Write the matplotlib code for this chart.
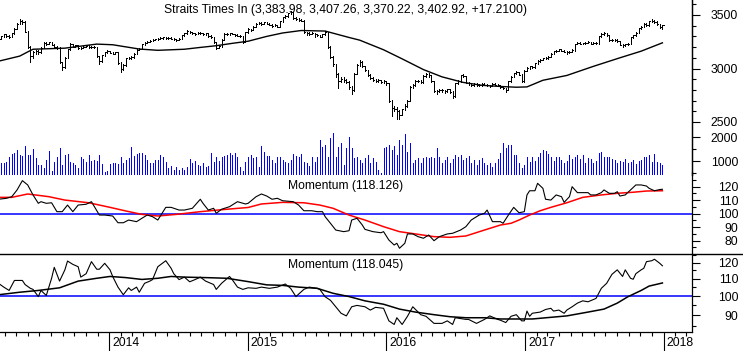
import numpy as np
import pandas as pd
import matplotlib
matplotlib.use('Agg')
import matplotlib.pyplot as plt
import matplotlib.dates as mdates
from matplotlib.lines import Line2D
from matplotlib.collections import LineCollection
from matplotlib.ticker import NullFormatter

plt.rcParams['font.family'] = ['Liberation Sans', 'DejaVu Sans']

# weekly bars, Straits Times Index
first_week = '2013-03-15'

closes = [3280, 3300, 3318, 3302, 3295, 3330, 3372, 3420, 3445, 3432,
          3345, 3200, 3115, 3150, 3165, 3150, 3195, 3238, 3230, 3245,
          3222, 3205, 3195, 3060, 3010, 3100, 3180, 3225, 3205, 3215,
          3190, 3195, 3205, 3212, 3198, 3205, 3200, 3115, 3070, 3125,
          3150, 3162, 3148, 3140, 3150, 3055, 2995, 3030, 3095, 3100,
          3105, 3140, 3175, 3185, 3228, 3240, 3252, 3258, 3265, 3272,
          3278, 3285, 3290, 3282, 3286, 3280, 3272, 3268, 3278, 3310,
          3330, 3348, 3340, 3328, 3322, 3335, 3330, 3318, 3328, 3305,
          3290, 3245, 3195, 3210, 3270, 3322, 3318, 3330, 3322, 3312,
          3308, 3300, 3252, 3340, 3368, 3360, 3392, 3418, 3425, 3420,
          3430, 3418, 3410, 3398, 3405, 3392, 3440, 3478, 3490, 3515,
          3525, 3472, 3465, 3455, 3448, 3340, 3330, 3322, 3332, 3318,
          3310, 3298, 3320, 3345, 3205, 3110, 3040, 2950, 2885, 2905,
          2895, 2878, 2830, 2795, 2950, 3035, 3062, 3020, 2985, 2940,
          2915, 2892, 2880, 2888, 2872, 2882, 2860, 2700, 2635, 2625,
          2600, 2570, 2618, 2650, 2700, 2830, 2845, 2880, 2886, 2872,
          2930, 2948, 2935, 2880, 2790, 2788, 2802, 2795, 2788, 2805,
          2780, 2742, 2860, 2882, 2935, 2928, 2868, 2860, 2845, 2852,
          2848, 2842, 2856, 2850, 2843, 2838, 2855, 2850, 2842, 2830,
          2815, 2800, 2880, 2925, 2955, 2968, 2940, 2882, 2980, 3005,
          3020, 3010, 3050, 3068, 3080, 3095, 3098, 3112, 3140, 3160,
          3165, 3178, 3165, 3158, 3150, 3152, 3172, 3228, 3242, 3230,
          3235, 3242, 3248, 3232, 3240, 3234, 3300, 3322, 3330, 3310,
          3268, 3262, 3268, 3255, 3222, 3215, 3225, 3232, 3290, 3310,
          3332, 3375, 3392, 3420, 3405, 3440, 3448, 3432, 3418, 3385, 3403]

highs = [3290, 3308, 3325, 3322, 3310, 3335, 3378, 3425, 3458, 3455,
         3440, 3350, 3210, 3160, 3175, 3170, 3200, 3245, 3250, 3252,
         3250, 3228, 3212, 3200, 3065, 3105, 3185, 3235, 3230, 3222,
         3220, 3202, 3212, 3220, 3215, 3210, 3210, 3202, 3120, 3130,
         3158, 3170, 3168, 3155, 3158, 3152, 3060, 3040, 3100, 3110,
         3115, 3145, 3180, 3195, 3232, 3248, 3258, 3265, 3272, 3280,
         3285, 3292, 3298, 3292, 3292, 3290, 3285, 3278, 3285, 3315,
         3335, 3360, 3352, 3342, 3332, 3340, 3340, 3332, 3332, 3330,
         3310, 3295, 3250, 3215, 3275, 3328, 3328, 3335, 3335, 3325,
         3318, 3312, 3305, 3345, 3375, 3372, 3398, 3425, 3432, 3430,
         3438, 3435, 3422, 3412, 3412, 3408, 3445, 3485, 3498, 3522,
         3540, 3528, 3478, 3470, 3460, 3450, 3345, 3338, 3340, 3335,
         3322, 3315, 3325, 3350, 3345, 3210, 3115, 3045, 2960, 2920,
         2925, 2900, 2885, 2835, 2955, 3040, 3075, 3068, 3025, 2990,
         2945, 2920, 2900, 2898, 2892, 2890, 2885, 2865, 2705, 2650,
         2640, 2610, 2625, 2665, 2710, 2840, 2855, 2888, 2895, 2890,
         2935, 2955, 2960, 2940, 2885, 2800, 2810, 2808, 2802, 2810,
         2812, 2790, 2865, 2890, 2940, 2945, 2930, 2875, 2865, 2860,
         2862, 2855, 2862, 2860, 2855, 2848, 2860, 2862, 2855, 2848,
         2835, 2822, 2885, 2930, 2960, 2975, 2970, 2945, 2985, 3012,
         3028, 3025, 3055, 3075, 3088, 3100, 3108, 3118, 3145, 3165,
         3175, 3182, 3180, 3170, 3162, 3160, 3178, 3232, 3250, 3245,
         3242, 3250, 3258, 3250, 3245, 3245, 3305, 3330, 3338, 3332,
         3312, 3275, 3275, 3272, 3258, 3228, 3232, 3240, 3295, 3315,
         3338, 3380, 3398, 3425, 3428, 3445, 3462, 3455, 3440, 3420, 3410]

lows = [3262, 3275, 3295, 3295, 3285, 3290, 3325, 3365, 3415, 3420,
        3340, 3190, 3060, 3100, 3140, 3140, 3145, 3190, 3220, 3225,
        3215, 3198, 3185, 3050, 2985, 3005, 3095, 3175, 3198, 3200,
        3182, 3185, 3190, 3200, 3192, 3195, 3192, 3110, 3040, 3065,
        3120, 3145, 3142, 3135, 3135, 3040, 2970, 2990, 3025, 3090,
        3088, 3100, 3135, 3170, 3180, 3222, 3235, 3248, 3255, 3262,
        3268, 3275, 3280, 3275, 3278, 3272, 3265, 3260, 3265, 3275,
        3305, 3325, 3332, 3322, 3315, 3318, 3322, 3312, 3315, 3298,
        3285, 3238, 3180, 3190, 3205, 3265, 3310, 3312, 3318, 3305,
        3300, 3290, 3235, 3250, 3335, 3352, 3358, 3388, 3412, 3410,
        3415, 3412, 3402, 3392, 3395, 3385, 3390, 3435, 3470, 3485,
        3510, 3465, 3455, 3448, 3440, 3330, 3315, 3310, 3318, 3295,
        3300, 3290, 3292, 3315, 3195, 3100, 3020, 2920, 2820, 2870,
        2870, 2860, 2810, 2760, 2790, 2945, 3025, 3010, 2975, 2930,
        2905, 2885, 2870, 2870, 2862, 2865, 2850, 2690, 2560, 2600,
        2530, 2528, 2565, 2610, 2640, 2695, 2820, 2840, 2870, 2860,
        2868, 2925, 2925, 2875, 2780, 2760, 2780, 2785, 2775, 2780,
        2770, 2720, 2735, 2855, 2878, 2920, 2860, 2850, 2838, 2840,
        2840, 2835, 2838, 2842, 2835, 2830, 2835, 2842, 2835, 2820,
        2805, 2785, 2795, 2875, 2920, 2948, 2935, 2870, 2878, 2975,
        3000, 3002, 3008, 3045, 3065, 3075, 3088, 3092, 3108, 3135,
        3155, 3162, 3160, 3150, 3140, 3142, 3150, 3168, 3225, 3225,
        3225, 3230, 3238, 3228, 3228, 3225, 3232, 3295, 3315, 3302,
        3260, 3255, 3258, 3248, 3215, 3205, 3212, 3220, 3230, 3285,
        3305, 3328, 3368, 3388, 3398, 3400, 3432, 3425, 3410, 3380, 3370]

# volume, millions (three stretches read separately)
vol_a = [1111, 903, 931, 972, 1181, 1292, 1348, 1459, 1250, 1209,
         1626, 1250, 1250, 1487, 1111, 834, 834, 695, 1042, 1417,
         597, 972, 1181, 1528, 834, 1250, 1292, 972, 903, 834,
         695, 1181, 1070, 972, 1250, 1014, 1042, 1014, 1250, 875,
         560, 597, 875, 903, 931, 875, 1181, 931, 1042,
         1111, 1598, 1209, 1292, 1320, 1320, 1250, 1042, 903, 903,
         1042, 1042, 1250, 1181, 972, 695, 792, 625, 736, 625,
         695, 625, 736, 1070, 903, 1014, 834, 792, 903,
         764, 792, 1320, 972, 1181, 1014, 1153, 1209, 1250,
         1320, 1250, 1348, 1181, 764, 597, 972]
vol_b = [1181, 1250, 1111, 1181, 764, 1626, 1389, 1209, 1209,
         1042, 903, 1181, 1181, 1042, 972, 931, 1042, 1292, 1209,
         1181, 1292, 972, 903, 792, 1181, 972, 1181, 1876, 1598,
         1667, 1181, 1945, 2181, 1181, 1598, 1737, 834, 1528, 2015,
         1528, 1111, 1181, 1042, 903, 1111, 1250, 903, 1111, 972,
         625, 486, 1528, 1598, 1667, 1459, 1626, 1250, 1876, 1667,
         2126, 1389, 1737, 903, 1042, 1111, 903, 1111, 1181, 1111,
         1181, 1111, 1528, 1181, 903, 1042, 1181, 903, 1070, 1250,
         1181, 1250, 1042, 1111, 1209, 903, 1042, 834, 1042, 1111,
         903, 834, 903, 764, 903, 1070]
vol_c = [1320, 1765, 1528, 1667, 1667, 1250, 1250, 903, 695, 834,
         1153, 972, 1181, 1014, 1181, 1320, 1459, 1431, 1292, 1181,
         1014, 1153, 1153, 1042, 903, 1014, 1250, 1070, 1181, 1250,
         1070, 1250, 903, 1111, 1070, 903, 1014, 1348, 1389, 1181,
         1153, 1181, 1070, 1042, 931, 1014, 972, 1070, 903, 972,
         1042, 875, 1014, 1042, 1153, 1181, 1250, 972, 1292, 972, 903, 834]
volume = vol_a + vol_b + vol_c

# price moving average (read at selected weeks)
pma_wk = [0, 8, 11, 13, 25, 37, 43, 53, 60, 70, 76, 82, 88, 94, 101, 107, 114, 123,
          132, 136, 145, 152, 160, 167, 175, 182, 189, 195, 199, 205, 214, 224, 234, 242, 250]
pma = [3068, 3116, 3155, 3180, 3190, 3228, 3222, 3182, 3170, 3180, 3197, 3213, 3235, 3255,
       3300, 3332, 3355, 3350, 3290, 3265, 3175, 3090, 2990, 2922, 2870, 2843, 2832, 2825,
       2828, 2890, 2935, 3020, 3100, 3162, 3240]

# momentum (118.126) and its red average
mom1_wk = [0, 3, 5, 7, 9, 11, 13, 15, 16, 18, 20, 22, 24, 26, 28, 30, 33, 35, 38, 40, 43, 45,
           47, 49, 52, 54, 56, 58, 60, 63, 65, 68, 70, 73, 76, 77, 79, 81, 82, 84, 87, 90, 93,
           94, 97, 99, 101, 103, 105, 107, 111, 113, 115, 118, 120, 122, 123, 125, 127, 130,
           132, 133, 135, 137, 138, 141, 144, 145, 147, 149, 150, 151, 153, 154, 156, 158,
           160, 162, 164, 166, 169, 171, 174, 176, 178, 181, 183, 184, 186, 189, 190, 192,
           194, 196, 198, 199, 200, 202, 203, 205, 206, 208, 210, 212, 213, 215, 216, 218,
           220, 222, 223, 225, 227, 228, 230, 232, 233, 234, 236, 238, 240, 242, 244, 245,
           247, 249, 250]
mom1 = [110.7, 111.4, 112.6, 117.6, 124.5, 121.3, 113.9, 107.7, 108.9, 107.7, 108.1, 101.5,
        101.5, 106.4, 101.5, 106.4, 107.0, 108.9, 99.0, 99.0, 98.3, 93.3, 93.3, 95.3, 94.1,
        96.6, 99.0, 97.8, 95.3, 104.7, 104.7, 102.7, 102.7, 104.0, 110.7, 107.7, 102.7, 104.0,
        100.3, 103.3, 105.2, 108.9, 107.2, 107.7, 112.6, 114.6, 113.1, 110.7, 111.4, 109.6,
        108.9, 106.4, 102.2, 102.2, 101.5, 101.5, 97.8, 92.9, 87.9, 86.7, 87.4, 95.3, 96.6,
        91.6, 88.4, 86.7, 85.9, 86.7, 80.5, 76.8, 78.1, 74.4, 78.1, 85.0, 85.0, 83.0, 81.8,
        84.2, 80.0, 83.0, 85.0, 85.5, 87.9, 90.4, 95.3, 99.0, 100.3, 102.7, 94.1, 94.1, 92.9,
        99.0, 104.7, 100.7, 101.5, 113.9, 117.0, 117.0, 122.5, 118.8, 110.7, 110.1, 113.9,
        112.6, 108.4, 112.6, 120.0, 115.6, 115.6, 115.6, 113.9, 113.9, 115.6, 117.6, 115.1,
        115.1, 116.3, 113.1, 113.9, 117.6, 121.3, 121.3, 120.5, 118.8, 117.0, 117.9, 118.1]
mom1_avg_wk = [0, 5, 11, 19, 25, 34, 42, 48, 54, 60, 67, 76, 86, 94, 99, 107, 115, 121, 126,
               132, 138, 145, 151, 157, 164, 170, 176, 183, 189, 193, 196, 200, 204, 208,
               214, 220, 227, 233, 239, 244, 250]
mom1_avg = [112.1, 112.1, 114.6, 112.6, 110.1, 108.1, 104.7, 102.0, 99.5, 98.3, 99.5, 101.5,
            103.3, 104.6, 107.2, 108.4, 108.1, 106.4, 104.0, 99.0, 95.3, 90.4, 86.7, 85.0,
            83.0, 82.5, 83.5, 87.9, 91.6, 92.9, 95.3, 99.0, 102.2, 104.7, 108.1, 112.1,
            113.9, 115.1, 115.9, 116.8, 117.0]

# momentum (118.045) and its black average
mom2_wk = [0, 2, 4, 6, 9, 10, 12, 13, 15, 16, 18, 20, 21, 23, 25, 26, 28, 30, 31, 33, 35, 37,
           38, 40, 42, 43, 45, 47, 49, 50, 52, 53, 55, 57, 58, 60, 63, 65, 66, 68, 70, 72, 74,
           76, 78, 81, 82, 84, 87, 88, 90, 92, 94, 97, 99, 102, 105, 108, 110, 112, 115, 117,
           120, 121, 123, 125, 127, 129, 131, 133, 135, 138, 140, 142, 145, 147, 149, 150,
           152, 154, 156, 159, 161, 164, 167, 169, 171, 172, 176, 177, 180, 183, 185, 188,
           189, 191, 193, 195, 197, 198, 199, 200, 201, 204, 206, 208, 209, 211, 213, 214,
           216, 218, 220, 222, 225, 227, 229, 231, 233, 235, 236, 238, 239, 240, 242, 243,
           244, 246, 247, 249, 250]
mom2 = [107.2, 105.0, 103.1, 108.9, 108.9, 106.5, 104.3, 103.7, 99.7, 103.1, 100.3, 110.2,
        117.0, 108.5, 115.4, 121.1, 118.9, 117.4, 110.9, 113.0, 120.7, 115.8, 115.8, 119.6,
        115.4, 111.3, 105.0, 100.7, 104.6, 103.1, 105.0, 102.1, 107.2, 108.5, 109.4, 117.4,
        121.3, 116.4, 113.0, 109.4, 110.9, 108.1, 109.4, 110.9, 108.5, 106.5, 103.7, 107.2,
        111.3, 109.4, 105.0, 103.7, 104.6, 104.3, 105.0, 104.3, 105.0, 106.8, 104.3, 99.7,
        103.7, 105.0, 104.3, 103.7, 99.6, 97.7, 94.3, 91.0, 89.7, 94.3, 95.0, 94.3, 92.6,
        94.0, 93.5, 87.3, 85.6, 88.8, 85.6, 89.5, 94.3, 90.3, 89.5, 86.1, 86.1, 87.3, 85.6,
        88.8, 88.0, 88.0, 86.1, 88.0, 89.7, 88.0, 87.6, 86.5, 89.5, 90.3, 87.3, 87.3, 92.1,
        89.5, 91.0, 91.6, 92.9, 93.5, 92.1, 92.6, 91.0, 92.6, 94.3, 96.2, 97.4, 96.9, 98.7,
        104.3, 107.2, 112.6, 115.4, 111.3, 115.4, 110.2, 109.6, 113.0, 115.4, 116.4, 120.7,
        121.3, 122.3, 119.6, 118.0]
mom2_avg_wk = [0, 8, 15, 23, 30, 37, 42, 48, 54, 60, 65, 70, 78, 86, 94, 101, 107, 113, 120,
               126, 132, 138, 145, 151, 157, 164, 170, 176, 183, 189, 201, 214, 222, 228,
               233, 237, 242, 245, 250]
mom2_avg = [100.7, 102.1, 103.1, 104.6, 108.5, 110.2, 111.3, 110.6, 109.5, 110.2, 111.3,
            110.9, 110.6, 110.2, 108.2, 106.3, 106.0, 105.0, 104.3, 101.5, 99.7, 97.4, 95.6,
            93.1, 91.6, 90.3, 89.3, 88.8, 88.8, 88.2, 88.2, 89.7, 91.6, 93.1, 96.2, 99.6,
            103.1, 105.6, 107.4]

title = "Straits Times In (3,383.98, 3,407.26, 3,370.22, 3,402.92, +17.2100)"
mom1_label = "Momentum (118.126)"
mom2_label = "Momentum (118.045)"
years = [2013, 2014, 2015, 2016, 2017, 2018]

W, H = 743, 351
blue = '#0000ff'
fs = 8.7
px = 0.72  # one pixel in points

weeks = pd.date_range(first_week, periods=len(closes), freq='7D')
dn = mdates.date2num(weeks)


def box(top, bottom):
    return [0, 1 - bottom / H, 692 / W, (bottom - top) / H]


fig = plt.figure(figsize=(W / 100, H / 100), dpi=100)
ax1 = fig.add_axes(box(0, 175))
axv = ax1.twinx()
ax2 = fig.add_axes(box(172, 254))
ax3 = fig.add_axes(box(254, 332))

x0 = mdates.date2num(pd.Timestamp('2013-03-19'))
x1 = mdates.date2num(pd.Timestamp('2018-03-17'))

for ax in (ax1, axv, ax2, ax3):
    ax.set_facecolor('none')
    ax.set_xlim(x0, x1)
    for side in ('left', 'top', 'bottom'):
        ax.spines[side].set_visible(False)
    ax.spines['right'].set_linewidth(0.9)
    ax.yaxis.tick_right()
    ax.tick_params(axis='y', which='major', direction='out', length=5.8, width=0.8,
                   pad=27.4, labelsize=fs, right=True, left=False, labelright=True, labelleft=False)
    ax.tick_params(axis='y', which='minor', direction='out', length=2.6, width=0.8,
                   right=True, left=False)
    ax.tick_params(axis='x', which='both', bottom=False, labelbottom=False)

# price bars
ax1.vlines(dn, lows, highs, color='black', lw=px, antialiased=False)
ticks = LineCollection([[(d, c), (d + 3.5, c)] for d, c in zip(dn, closes)],
                       colors='black', linewidths=px, antialiased=False)
ax1.add_collection(ticks)
ax1.plot(dn[pma_wk], pma, color='black', lw=1.0)
ax1.set_ylim(3500 - 160 / 0.107, 3500 + 15 / 0.107)
ax1.set_yticks([2500, 3000, 3500])
ax1.set_yticks([2600, 2700, 2800, 2900, 3100, 3200, 3300, 3400, 3600], minor=True)

# volume
axv.vlines(dn, 0, volume, color=blue, lw=px, antialiased=False)
axv.set_ylim(1000 - 14 / 0.024, 1000 + 161 / 0.024)
axv.set_yticks([1000, 2000])
axv.set_yticks([500, 1500], minor=True)

# momentum 1
ax2.axhline(100, color=blue, lw=1.1)
ax2.plot(dn[mom1_avg_wk], mom1_avg, color='red', lw=1.1)
ax2.plot(dn[mom1_wk], mom1, color='black', lw=0.8)
ax2.set_ylim(80 - 13.3 / 1.35, 120 + 14.7 / 1.35)
ax2.set_yticks([80, 90, 100, 110, 120])
ax2.set_yticks([75, 85, 95, 105, 115, 125], minor=True)

# momentum 2 (log scale)
ax3.set_yscale('log')
ax3.axhline(100, color=blue, lw=1.1)
ax3.plot(dn[mom2_avg_wk], mom2_avg, color='black', lw=1.1)
ax3.plot(dn[mom2_wk], mom2, color='black', lw=0.8)
ax3.set_ylim(120 * np.exp(-69.3 / 182.8), 120 * np.exp(8.7 / 182.8))
ax3.set_yticks([90, 100, 110, 120], labels=['90', '100', '110', '120'])
ax3.set_yticks([85, 95, 105, 115, 125], minor=True)
ax3.yaxis.set_minor_formatter(NullFormatter())

for ax in (ax1, axv, ax2, ax3):
    for lbl in ax.get_yticklabels():
        lbl.set_horizontalalignment('right')

# bottom time axis
ax3.spines['bottom'].set_visible(True)
ax3.spines['bottom'].set_linewidth(0.9)
ax3.xaxis.set_major_locator(mdates.YearLocator())
ax3.xaxis.set_minor_locator(mdates.MonthLocator())
ax3.xaxis.set_major_formatter(NullFormatter())
ax3.tick_params(axis='x', which='major', bottom=True, direction='out', length=14, width=0.8)
ax3.tick_params(axis='x', which='minor', bottom=True, direction='out', length=2.6, width=0.8)
for yr in years:
    ax3.annotate(str(yr), xy=(mdates.date2num(pd.Timestamp(f'{yr}-01-01')), 0),
                 xycoords=('data', 'axes fraction'), xytext=(3, -11.5),
                 textcoords='offset pixels', ha='left', va='center', fontsize=fs,
                 annotation_clip=False)

fig.add_artist(Line2D([0, 1], [1 - 254 / H] * 2, color='black', lw=1.0,
                      transform=fig.transFigure))

fig.text(346 / W, 1 - 10 / H, title, ha='center', va='center', fontsize=fs)
fig.text(345.5 / W, 1 - 186.5 / H, mom1_label, ha='center', va='center', fontsize=fs)
fig.text(345.5 / W, 1 - 265 / H, mom2_label, ha='center', va='center', fontsize=fs)

fig.savefig('out.png', dpi=100)
